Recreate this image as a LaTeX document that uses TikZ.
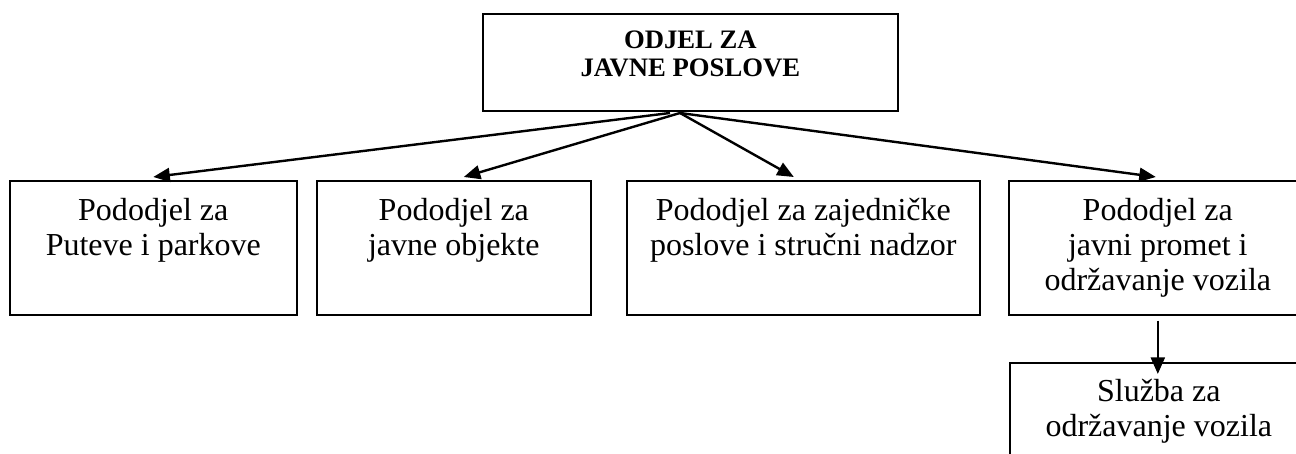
\documentclass[tikz,border=0pt]{standalone}
\usepackage{fontspec}
\setmainfont{Liberation Serif}
\usepackage{tikz}
\usetikzlibrary{calc,arrows.meta}
\tikzset{
  unit/.style={draw, line width=0.6pt, inner sep=0pt, anchor=north west},
  conn/.style={line width=0.9pt, -{Triangle[length=6.2pt,width=5.2pt]}},
  head/.style={font=\fontsize{10}{10.5}\selectfont\bfseries},
}
% #1 text options, #2 name, #3 left, #4 top, #5 width, #6 height, #7 baseline offset, #8 text
\newcommand{\unitbox}[8][]{
  \node[unit, minimum width=#5*0.375pt, minimum height=#6*0.375pt] (#2) at (#3,#4) {};
  \node[anchor=base, inner sep=0pt, #1] (#2-text) at ($(#2.north)+(0,#7)$) {\begin{tabular}[t]{@{}c@{}}#8\end{tabular}};
}

\begin{document}
\begin{tikzpicture}[x=0.375pt, y=-0.375pt, font=\fontsize{12}{13.1}\selectfont]
\useasboundingbox (0,0) rectangle (1296,454);
\clip (0,0) rectangle (1296,454);
\unitbox[head]{odjel}{482}{13}{415}{97}{36}{ODJEL ZA\\JAVNE POSLOVE}
\unitbox{putevi}{9}{180}{287}{134}{41}{Pododjel za\\Puteve i parkove}
\unitbox{objekti}{316}{180}{274}{134}{41}{Pododjel za\\javne objekte}
\unitbox{nadzor}{626}{180}{353}{134}{41}{Pododjel za zajedničke\\poslove i stručni nadzor}
\unitbox{promet}{1008}{180}{298}{134}{41}{Pododjel za\\javni promet i\\održavanje vozila}
\unitbox{sluzba}{1009}{362}{298}{134}{40}{Služba za\\održavanje vozila}
\coordinate (hub) at (680,113);
\coordinate (hubl) at (670,113);
\draw[conn] (hubl) -- ($(putevi.north)+(0,-3)$);
\draw[conn] (hub) -- ($(objekti.north)+(10,-3)$);
\draw[conn] (hub) -- ($(nadzor.north)+(-9.5,-3)$);
\draw[conn] (hub) -- ($(promet.north)+(-2,-3)$);
\draw[conn] ($(promet.south)+(0,5)$) -- ($(sluzba.north)+(-1,12)$);
\end{tikzpicture}
\end{document}
